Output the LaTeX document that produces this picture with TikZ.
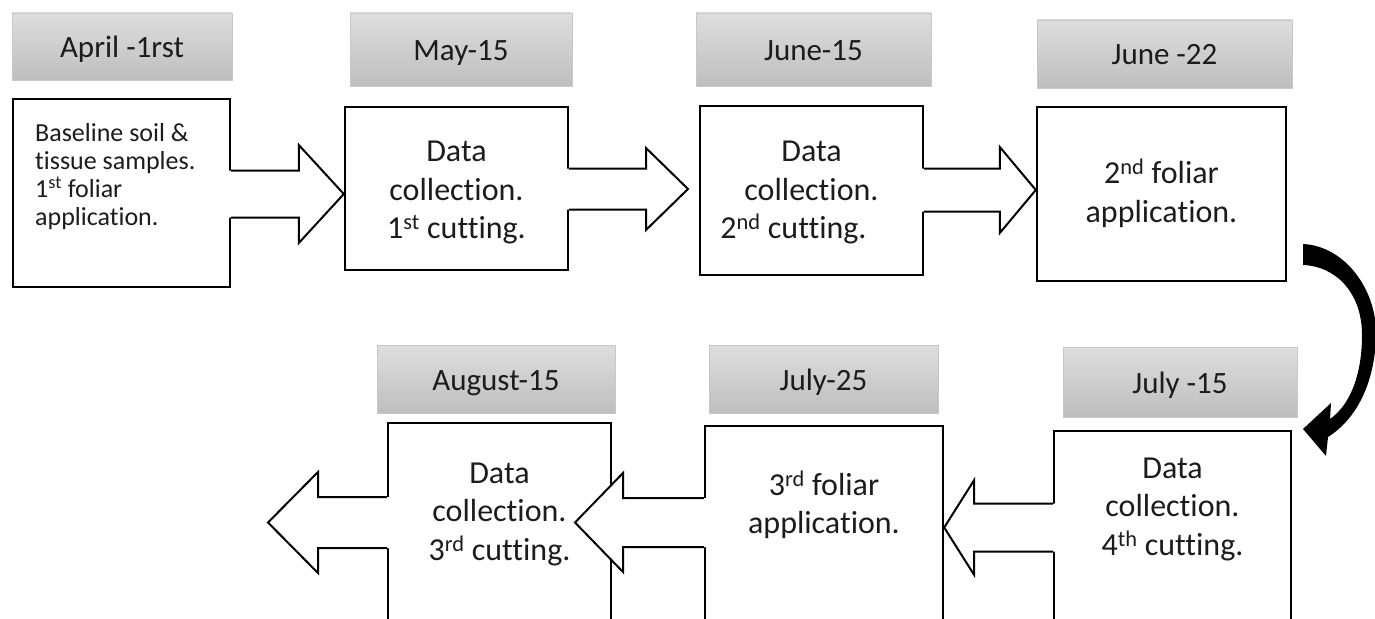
\documentclass[tikz,border=0pt]{standalone}
\usepackage{fontspec}
\setmainfont{Carlito}[Ligatures=NoCommon]
\usetikzlibrary{calc}
\definecolor{hdtop}{RGB}{222,222,222}
\definecolor{hdbot}{RGB}{190,190,190}
\definecolor{hdline}{RGB}{200,200,200}
\definecolor{txt}{RGB}{28,28,28}
\newcommand\firstln{\rule{0pt}{1em}}
\newcommand\smallbodyfont{\fontsize{26}{28}\selectfont}
\newcommand\headfont{\fontsize{31}{38.5}\selectfont}
\newcommand\bodyfont{\fontsize{32}{38.5}\selectfont}
% #1 source anchor, #2 tip coordinate, #3 head length, #4 shaft half width, #5 head half width
\newcommand\blockarrow[5]{%
  \path let \p1=(#1), \p2=(#2), \n1={ifthenelse(\x2>\x1,1,-1)} in
    [fill=white] (\x1-3*\n1,\y2+#4) -- (\x2-#3*\n1,\y2+#4) -- (\x2-#3*\n1,\y2+#5) -- (\x2,\y2)
      -- (\x2-#3*\n1,\y2-#5) -- (\x2-#3*\n1,\y2-#4) -- (\x1-3*\n1,\y2-#4) -- cycle;
  \path let \p1=(#1), \p2=(#2), \n1={ifthenelse(\x2>\x1,1,-1)} in
    [arrowline] (\x1,\y2+#4) -- (\x2-#3*\n1,\y2+#4) -- (\x2-#3*\n1,\y2+#5) -- (\x2,\y2)
      -- (\x2-#3*\n1,\y2-#5) -- (\x2-#3*\n1,\y2-#4) -- (\x1,\y2-#4);
}
\begin{document}
\begin{tikzpicture}[x=1pt,y=-1pt,
  header/.style={rectangle, draw=hdline, line width=0.8pt, top color=hdtop, bottom color=hdbot,
    inner sep=0pt, text height=29pt, text depth=7pt, font=\headfont, text=txt},
  stage/.style={rectangle, draw=black, line width=2.4pt, fill=white, inner sep=0pt},
  boxtext/.style={inner sep=0pt, align=center, anchor=north, text=txt, font=\bodyfont},
  arrowline/.style={draw=black, line width=2pt, line join=miter}]
\useasboundingbox (0,0) rectangle (1375,618);
\clip (0,0) rectangle (1375,618);
\fill[white] (0,0) rectangle (1375,618);

% date headers
\node[header, minimum width=220pt, minimum height=67pt] (h1) at (122,46.5) {April -1rst};
\node[header, minimum width=222pt, minimum height=73pt] (h2) at (461,49.5) {May-15};
\node[header, minimum width=235pt, minimum height=73pt] (h3) at (813.5,49.5) {June-15};
\node[header, minimum width=255pt, minimum height=68pt] (h4) at (1164.5,54) {June -22};
\node[header, minimum width=238pt, minimum height=68pt] (h5) at (496,379) {August-15};
\node[header, minimum width=229pt, minimum height=68pt] (h6) at (823.5,379) {July-25};
\node[header, minimum width=234pt, minimum height=70pt] (h7) at (1180,382) {July -15};

% stage boxes
\node[stage, minimum width=217pt, minimum height=188pt] (b1) at (121.5,193) {};
\node[stage, minimum width=223pt, minimum height=163pt] (b2) at (456.5,188.5) {};
\node[stage, minimum width=223pt, minimum height=169pt] (b3) at (811.5,190.5) {};
\node[stage, minimum width=249pt, minimum height=174pt] (b4) at (1161.5,194) {};
\node[stage, minimum width=223pt, minimum height=237pt] (b5) at (499.5,541.5) {};
\node[stage, minimum width=238pt, minimum height=234pt] (b6) at (824,543) {};
\node[stage, minimum width=237pt, minimum height=229pt] (b7) at (1172.5,545.5) {};

% texts
\node[inner sep=0pt, anchor=north west, text=txt, font=\smallbodyfont] (t1) at (35,115)
  {\vbox{\baselineskip=28pt\lineskiplimit=-30pt
    \hbox{\firstln Baseline soil \&}\hbox{tissue samples.}%
    \hbox{1\textsuperscript{st} foliar}\hbox{application.}}};
\node[boxtext] (t2) at (456.5,129.5) {\firstln Data\\collection.\\1\textsuperscript{st} cutting.};
\node[boxtext] (t3) at (811.5,129.5) {\firstln Data\\collection.\\2\textsuperscript{nd} cutting.\hspace*{36pt}};
\node[boxtext] (t4) at (1161.5,151.5) {\firstln 2\textsuperscript{nd} foliar\\application.};
\node[boxtext] (t5) at (499.5,451) {\firstln Data\\collection.\\3\textsuperscript{rd} cutting.};
\node[boxtext] (t6) at (824,463) {\firstln 3\textsuperscript{rd} foliar\\application.};
\node[boxtext] (t7) at (1172.5,446) {\firstln Data\\collection.\\4\textsuperscript{th} cutting.};

% block arrows
\coordinate (p1) at (b2.west |- 0,194);
\coordinate (p2) at (688,189);
\coordinate (p3) at (b4.west |- 0,190);
\coordinate (p4) at (268,522.5);
\coordinate (p5) at (575,522.5);
\coordinate (p6) at (b6.east |- 0,527.5);
\blockarrow{b1.east}{p1}{45}{23.5}{49}
\blockarrow{b2.east}{p2}{42}{20.5}{41}
\blockarrow{b3.east}{p3}{36}{21.5}{43}
\blockarrow{b5.west}{p4}{50}{25.5}{50.5}
\blockarrow{b6.west}{p5}{48}{24.5}{49.5}
\blockarrow{b7.west}{p6}{30}{24}{47.5}

% curved arrow from the top row to the bottom row
\fill[black] (1303,244) .. controls (1345,246) and (1377,290) .. (1376,335)
  .. controls (1375,385) and (1355,420) .. (1328,437) -- (1326,456) -- (1303,429)
  -- (1331,403) -- (1330,419) .. controls (1350,405) and (1362,375) .. (1362,335)
  .. controls (1362,292) and (1335,266) .. (1303,265) -- cycle;
\end{tikzpicture}
\end{document}
